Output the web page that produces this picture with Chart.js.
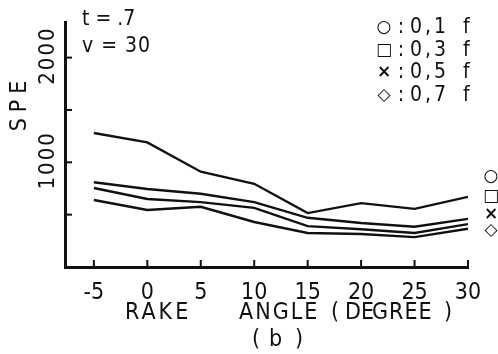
<!DOCTYPE html>
<html>
<head>
<meta charset="utf-8">
<script src="https://cdn.jsdelivr.net/npm/chart.js@4.4.1/dist/chart.umd.min.js"></script>
<style>
  html, body { margin: 0; padding: 0; background: #fff; }
  #wrap { width: 498px; height: 354px; }
</style>
</head>
<body>
<div id="wrap"><canvas id="speChart" width="498" height="354"></canvas></div>
<script>
// rake angle (degree) vs SPE, t = .7, v = 30
const rakeAngles = [-5, 0, 5, 10, 15, 20, 25, 30];
const spe01 = [1280, 1190, 910, 795, 515, 610, 555, 670];
const spe03 = [810, 745, 700, 620, 470, 420, 385, 460];
const spe05 = [755, 650, 620, 565, 390, 360, 325, 410];
const spe07 = [640, 545, 575, 430, 325, 315, 285, 365];
const feedLabels = ['0,1', '0,3', '0,5', '0,7'];
const feedSymbols = ['○', '□', '×', '◇'];
const yTickValues = [500, 1000, 1500, 2000];
const yTickLabels = ['', '1000', '', '2000'];

const FONT = '"Liberation Sans Narrow", "DejaVu Sans Condensed", "DejaVu Sans", sans-serif';
const SYMFONT = '"DejaVu Sans", sans-serif';
const INK = '#111';

function toPoints(values) {
    return rakeAngles.map((x, i) => ({ x: x, y: values[i] }));
}

// inward tick marks, rotated y labels and all the loose text
const decorations = {
    id: 'decorations',
    afterDraw(chart) {
        const ctx = chart.ctx;
        const area = chart.chartArea;
        const xs = chart.scales.x;
        const ys = chart.scales.y;
        ctx.save();
        ctx.strokeStyle = INK;
        ctx.fillStyle = INK;
        ctx.lineWidth = 2;

        rakeAngles.forEach(v => {
            const px = xs.getPixelForValue(v);
            ctx.beginPath();
            ctx.moveTo(px, area.bottom);
            ctx.lineTo(px, area.bottom - 7);
            ctx.stroke();
        });
        yTickValues.forEach((v, i) => {
            const py = ys.getPixelForValue(v);
            ctx.beginPath();
            ctx.moveTo(area.left, py);
            ctx.lineTo(area.left + 7, py);
            ctx.stroke();
            if (yTickLabels[i]) {
                ctx.save();
                ctx.translate(area.left - 17, py - 2);
                ctx.rotate(-Math.PI / 2);
                ctx.font = '22px ' + FONT;
                ctx.letterSpacing = '2px';
                ctx.textAlign = 'center';
                ctx.textBaseline = 'middle';
                ctx.fillText(yTickLabels[i], 0, 0);
                ctx.restore();
            }
        });

        // y axis title
        ctx.save();
        ctx.translate(20, 103);
        ctx.rotate(-Math.PI / 2);
        ctx.font = '23px ' + FONT;
        ctx.letterSpacing = '6px';
        ctx.textAlign = 'center';
        ctx.textBaseline = 'middle';
        ctx.fillText('SPE', 0, 0);
        ctx.restore();

        // cutting conditions
        ctx.font = '21px ' + FONT;
        ctx.letterSpacing = '0px';
        ctx.textAlign = 'left';
        ctx.textBaseline = 'middle';
        ctx.fillText('t = .7', 82, 20);
        ctx.letterSpacing = '1px';
        ctx.fillText('v = 30', 82, 47);

        // feed legend
        feedLabels.forEach((label, i) => {
            const y = 28 + i * 22.5;
            ctx.letterSpacing = '0px';
            ctx.textAlign = 'center';
            ctx.font = 'bold 17px ' + SYMFONT;
            ctx.fillText(feedSymbols[i], 384, y);
            ctx.font = '21px ' + FONT;
            ctx.fillText(':', 401, y);
            ctx.textAlign = 'left';
            ctx.letterSpacing = '3px';
            ctx.fillText(label, 410, y);
            ctx.fillText('f', 463, y);
        });

        // series markers at the right end
        ctx.letterSpacing = '0px';
        ctx.textAlign = 'center';
        ctx.font = 'bold 17px ' + SYMFONT;
        [177, 197, 215, 231].forEach((y, i) => {
            ctx.fillText(feedSymbols[i], 491, y);
        });

        // x axis title
        ctx.font = '23px ' + FONT;
        ctx.letterSpacing = '3px';
        ctx.textAlign = 'left';
        ctx.fillText('RAKE', 125, 313);
        ctx.letterSpacing = '2px';
        ctx.fillText('ANGLE', 239, 313);
        ctx.fillText('(', 331, 313);
        ctx.letterSpacing = '0px';
        ctx.fillText('DE', 345, 313);
        ctx.letterSpacing = '1px';
        ctx.fillText('GREE', 372, 313);
        ctx.fillText(')', 444, 313);
        ctx.fillText('(', 252, 340);
        ctx.fillText('b', 269, 340);
        ctx.fillText(')', 295, 340);
        ctx.restore();
    }
};

const ctx = document.getElementById('speChart').getContext('2d');
const speChart = new Chart(ctx, {
    type: 'line',
    data: {
        datasets: [
            { label: '0,1 f', data: toPoints(spe01) },
            { label: '0,3 f', data: toPoints(spe03) },
            { label: '0,5 f', data: toPoints(spe05) },
            { label: '0,7 f', data: toPoints(spe07) }
        ].map(ds => Object.assign(ds, {
            borderColor: INK,
            borderWidth: 2.4,
            pointRadius: 0,
            tension: 0,
            fill: false
        }))
    },
    options: {
        responsive: false,
        animation: false,
        devicePixelRatio: 1,
        layout: { padding: { left: 0, top: 22, right: 30, bottom: 0 } },
        plugins: {
            legend: { display: false },
            tooltip: { enabled: false }
        },
        scales: {
            x: {
                type: 'linear',
                min: -7.7,
                max: 30,
                afterBuildTicks: axis => { axis.ticks = rakeAngles.map(v => ({ value: v })); },
                afterFit: axis => { axis.height = 87; },
                grid: { display: false, drawTicks: false },
                border: { display: true, color: INK, width: 3 },
                ticks: {
                    color: INK,
                    padding: 12,
                    maxRotation: 0,
                    font: { family: FONT, size: 23 }
                }
            },
            y: {
                type: 'linear',
                min: 0,
                max: 2340,
                afterBuildTicks: axis => { axis.ticks = yTickValues.map(v => ({ value: v })); },
                afterFit: axis => { axis.width = 65; },
                grid: { display: false, drawTicks: false },
                border: { display: true, color: INK, width: 3 },
                ticks: { display: false }
            }
        }
    },
    plugins: [decorations]
});
</script>
</body>
</html>
